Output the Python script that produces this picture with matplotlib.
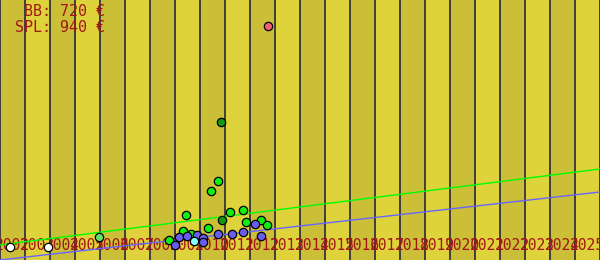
import matplotlib
matplotlib.use("Agg")
import matplotlib.pyplot as plt
import numpy as np

# -----------------------
# Data
# -----------------------
years = list(range(2002, 2026))          # one band per year
year_labels = [str(y) for y in years]

white_x = [2001.9, 2003.42]
white_y = [50, 50]

lightgreen_x = [2005.46]
lightgreen_y = [88]

green_x = [2008.26, 2008.82, 2009.14, 2008.94, 2009.82, 2009.94, 2010.22,
           2010.70, 2011.22, 2011.34, 2011.94, 2012.18]
green_y = [77, 112, 100, 173, 123, 265, 304, 185, 192, 146, 154, 135]

darkgreen_x = [2010.34, 2010.38]
darkgreen_y = [531, 154]

blue_x = [2008.50, 2008.66, 2008.98, 2009.38, 2009.62, 2009.62, 2010.22,
          2010.78, 2011.22, 2011.70, 2011.94]
blue_y = [58, 88, 92, 96, 85, 69, 100, 100, 108, 138, 92]

cyan_x = [2009.26]
cyan_y = [73]

pink_x = [2012.22]
pink_y = [900]

# trend lines: value at 2001.5 and slope per year
green_trend = (58, 12.17)
blue_trend = (0, 10.9)

legend_lines = ["BB: 720 €", "SPL: 940 €"]

# -----------------------
# Plot
# -----------------------
fig = plt.figure(figsize=(6, 2.6), dpi=100)
ax = fig.add_axes([0, 0, 1, 1])

x0, x1 = years[0] - 0.5, years[-1] + 0.5
ax.set_xlim(x0, x1)
ax.set_ylim(0, 1000)

# alternating year bands
for i, yr in enumerate(years):
    ax.axvspan(yr - 0.5, yr + 0.5, color="#cbbf38" if i % 2 == 0 else "#ded33b",
               lw=0, zorder=0)
for yr in years + [years[-1] + 1]:
    ax.axvline(yr - 0.5, color="#34343c", lw=1.3, zorder=1)

xs = np.array([x0, x1])
ax.plot(xs, green_trend[0] + (xs - x0) * green_trend[1], color="#00ff00",
        lw=1, zorder=3)
ax.plot(xs, blue_trend[0] + (xs - x0) * blue_trend[1], color="#6666ff",
        lw=1, zorder=3)

groups = [
    (white_x, white_y, "#ffffff"),
    (lightgreen_x, lightgreen_y, "#66e066"),
    (green_x, green_y, "#11ee11"),
    (darkgreen_x, darkgreen_y, "#119911"),
    (blue_x, blue_y, "#6a5cf0"),
    (cyan_x, cyan_y, "#88ffff"),
    (pink_x, pink_y, "#f06070"),
]
for gx, gy, c in groups:
    ax.scatter(gx, gy, s=36, color=c, edgecolor="black", linewidth=0.9,
               zorder=4)

# year labels inside the plot area
ax.set_xticks(years)
ax.set_xticklabels(year_labels, family="DejaVu Sans Mono", fontsize=10.5,
                   color="#a31515")
ax.tick_params(axis="x", length=0, pad=-16)
ax.set_yticks([])
for s in ax.spines.values():
    s.set_visible(False)

for k, txt in enumerate(legend_lines):
    ax.text(0.175, 0.954 - k * 0.058, txt, transform=ax.transAxes,
            ha="right", va="center", family="DejaVu Sans Mono",
            fontsize=10.8, color="#a31515", zorder=5)

fig.savefig("out.png", dpi=100)
